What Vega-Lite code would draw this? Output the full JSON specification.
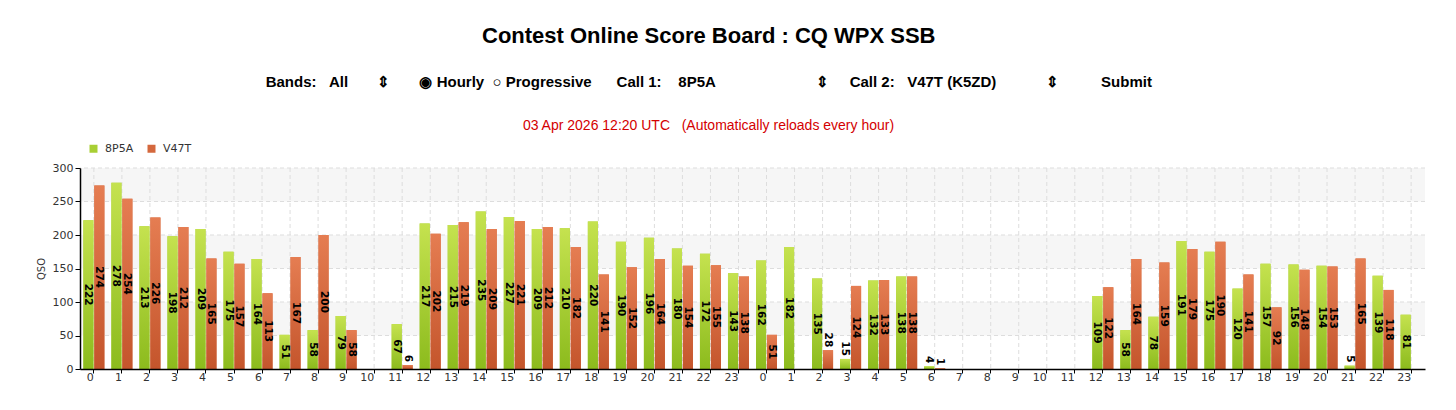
{
  "$schema": "https://vega.github.io/schema/vega-lite/v6.json",
  "background": "white",
  "padding": {"left": 36, "top": 25, "right": 15, "bottom": 5},
  "config": {"view": {"stroke": null}},
  "title": {
    "text": "Contest Online Score Board : CQ WPX SSB",
    "subtitle": "Bands:\u00a0\u00a0\u00a0All\u00a0\u00a0\u00a0\u00a0\u00a0\u00a0\u00a0⇕\u00a0\u00a0\u00a0\u00a0\u00a0\u00a0\u00a0◉ Hourly\u00a0\u00a0○ Progressive\u00a0\u00a0\u00a0\u00a0\u00a0\u00a0Call 1:\u00a0\u00a0\u00a0\u00a08P5A\u00a0\u00a0\u00a0\u00a0\u00a0\u00a0\u00a0\u00a0\u00a0\u00a0\u00a0\u00a0\u00a0\u00a0\u00a0\u00a0\u00a0\u00a0\u00a0\u00a0\u00a0\u00a0\u00a0\u00a0⇕\u00a0\u00a0\u00a0\u00a0\u00a0Call 2:\u00a0\u00a0\u00a0V47T (K5ZD)\u00a0\u00a0\u00a0\u00a0\u00a0\u00a0\u00a0\u00a0\u00a0\u00a0\u00a0\u00a0⇕\u00a0\u00a0\u00a0\u00a0\u00a0\u00a0\u00a0\u00a0\u00a0\u00a0Submit\u00a0\u00a0\u00a0",
    "anchor": "middle",
    "dx": -22,
    "font": "Liberation Sans",
    "fontSize": 22,
    "fontWeight": "bold",
    "color": "#000000",
    "subtitleFont": "Liberation Sans",
    "subtitleFontSize": 15,
    "subtitleFontWeight": "bold",
    "subtitleColor": "#000000",
    "subtitlePadding": 27,
    "offset": 28
  },
  "datasets": {
    "bands": [
      {"lo": 50, "hi": 100},
      {"lo": 150, "hi": 200},
      {"lo": 250, "hi": 300}
    ],
    "qso": [
      {"slot": 0, "call": "8P5A", "qso": 222}, {"slot": 0, "call": "V47T", "qso": 274},
      {"slot": 1, "call": "8P5A", "qso": 278}, {"slot": 1, "call": "V47T", "qso": 254},
      {"slot": 2, "call": "8P5A", "qso": 213}, {"slot": 2, "call": "V47T", "qso": 226},
      {"slot": 3, "call": "8P5A", "qso": 198}, {"slot": 3, "call": "V47T", "qso": 212},
      {"slot": 4, "call": "8P5A", "qso": 209}, {"slot": 4, "call": "V47T", "qso": 165},
      {"slot": 5, "call": "8P5A", "qso": 175}, {"slot": 5, "call": "V47T", "qso": 157},
      {"slot": 6, "call": "8P5A", "qso": 164}, {"slot": 6, "call": "V47T", "qso": 113},
      {"slot": 7, "call": "8P5A", "qso": 51}, {"slot": 7, "call": "V47T", "qso": 167},
      {"slot": 8, "call": "8P5A", "qso": 58}, {"slot": 8, "call": "V47T", "qso": 200},
      {"slot": 9, "call": "8P5A", "qso": 79}, {"slot": 9, "call": "V47T", "qso": 58},
      {"slot": 10, "call": "8P5A", "qso": 0}, {"slot": 10, "call": "V47T", "qso": 0},
      {"slot": 11, "call": "8P5A", "qso": 67}, {"slot": 11, "call": "V47T", "qso": 6},
      {"slot": 12, "call": "8P5A", "qso": 217}, {"slot": 12, "call": "V47T", "qso": 202},
      {"slot": 13, "call": "8P5A", "qso": 215}, {"slot": 13, "call": "V47T", "qso": 219},
      {"slot": 14, "call": "8P5A", "qso": 235}, {"slot": 14, "call": "V47T", "qso": 209},
      {"slot": 15, "call": "8P5A", "qso": 227}, {"slot": 15, "call": "V47T", "qso": 221},
      {"slot": 16, "call": "8P5A", "qso": 209}, {"slot": 16, "call": "V47T", "qso": 212},
      {"slot": 17, "call": "8P5A", "qso": 210}, {"slot": 17, "call": "V47T", "qso": 182},
      {"slot": 18, "call": "8P5A", "qso": 220}, {"slot": 18, "call": "V47T", "qso": 141},
      {"slot": 19, "call": "8P5A", "qso": 190}, {"slot": 19, "call": "V47T", "qso": 152},
      {"slot": 20, "call": "8P5A", "qso": 196}, {"slot": 20, "call": "V47T", "qso": 164},
      {"slot": 21, "call": "8P5A", "qso": 180}, {"slot": 21, "call": "V47T", "qso": 154},
      {"slot": 22, "call": "8P5A", "qso": 172}, {"slot": 22, "call": "V47T", "qso": 155},
      {"slot": 23, "call": "8P5A", "qso": 143}, {"slot": 23, "call": "V47T", "qso": 138},
      {"slot": 24, "call": "8P5A", "qso": 162}, {"slot": 24, "call": "V47T", "qso": 51},
      {"slot": 25, "call": "8P5A", "qso": 182}, {"slot": 25, "call": "V47T", "qso": 0},
      {"slot": 26, "call": "8P5A", "qso": 135}, {"slot": 26, "call": "V47T", "qso": 28},
      {"slot": 27, "call": "8P5A", "qso": 15}, {"slot": 27, "call": "V47T", "qso": 124},
      {"slot": 28, "call": "8P5A", "qso": 132}, {"slot": 28, "call": "V47T", "qso": 133},
      {"slot": 29, "call": "8P5A", "qso": 138}, {"slot": 29, "call": "V47T", "qso": 138},
      {"slot": 30, "call": "8P5A", "qso": 4}, {"slot": 30, "call": "V47T", "qso": 1},
      {"slot": 31, "call": "8P5A", "qso": 0}, {"slot": 31, "call": "V47T", "qso": 0},
      {"slot": 32, "call": "8P5A", "qso": 0}, {"slot": 32, "call": "V47T", "qso": 0},
      {"slot": 33, "call": "8P5A", "qso": 0}, {"slot": 33, "call": "V47T", "qso": 0},
      {"slot": 34, "call": "8P5A", "qso": 0}, {"slot": 34, "call": "V47T", "qso": 0},
      {"slot": 35, "call": "8P5A", "qso": 0}, {"slot": 35, "call": "V47T", "qso": 0},
      {"slot": 36, "call": "8P5A", "qso": 109}, {"slot": 36, "call": "V47T", "qso": 122},
      {"slot": 37, "call": "8P5A", "qso": 58}, {"slot": 37, "call": "V47T", "qso": 164},
      {"slot": 38, "call": "8P5A", "qso": 78}, {"slot": 38, "call": "V47T", "qso": 159},
      {"slot": 39, "call": "8P5A", "qso": 191}, {"slot": 39, "call": "V47T", "qso": 179},
      {"slot": 40, "call": "8P5A", "qso": 175}, {"slot": 40, "call": "V47T", "qso": 190},
      {"slot": 41, "call": "8P5A", "qso": 120}, {"slot": 41, "call": "V47T", "qso": 141},
      {"slot": 42, "call": "8P5A", "qso": 157}, {"slot": 42, "call": "V47T", "qso": 92},
      {"slot": 43, "call": "8P5A", "qso": 156}, {"slot": 43, "call": "V47T", "qso": 148},
      {"slot": 44, "call": "8P5A", "qso": 154}, {"slot": 44, "call": "V47T", "qso": 153},
      {"slot": 45, "call": "8P5A", "qso": 5}, {"slot": 45, "call": "V47T", "qso": 165},
      {"slot": 46, "call": "8P5A", "qso": 139}, {"slot": 46, "call": "V47T", "qso": 118},
      {"slot": 47, "call": "8P5A", "qso": 81}, {"slot": 47, "call": "V47T", "qso": 0}
    ]
  },
  "resolve": {"legend": {"color": "independent"}},
  "vconcat": [
    {
      "title": {
        "text": "03 Apr 2026 12:20 UTC\u00a0\u00a0\u00a0(Automatically reloads every hour)",
        "anchor": "middle",
        "dx": -44,
        "font": "Liberation Sans",
        "fontSize": 14,
        "fontWeight": "normal",
        "color": "#d40000",
        "offset": 2
      },
      "width": 1345,
      "height": 201,
      "layer": [
        {
          "data": {"name": "bands"},
          "mark": {"type": "rect", "fill": "#f6f6f6"},
          "encoding": {
            "y": {
              "field": "lo",
              "type": "quantitative",
              "scale": {"domain": [0, 300], "nice": false},
              "axis": {
                "title": "QSO",
                "zindex": 1,
                "grid": false,
                "tickCount": 6,
                "labelOverlap": false,
                "titleFont": "DejaVu Sans",
                "titleFontSize": 10,
                "titleFontWeight": "normal",
                "titleColor": "#333333",
                "titlePadding": 6,
                "labelFont": "DejaVu Sans",
                "labelFontSize": 11,
                "labelColor": "#333333",
                "domainColor": "#000000",
                "domainWidth": 1.5,
                "tickColor": "#000000",
                "tickSize": 5
              }
            },
            "y2": {"field": "hi"}
          }
        },
        {
          "data": {"name": "bands"},
          "mark": {"type": "rule", "color": "#dddddd", "strokeDash": [4, 3]},
          "encoding": {"y": {"field": "lo", "type": "quantitative"}}
        },
        {
          "data": {"name": "bands"},
          "mark": {"type": "rule", "color": "#dddddd", "strokeDash": [4, 3]},
          "encoding": {"y": {"field": "hi", "type": "quantitative"}}
        },
        {
          "data": {"name": "qso"},
          "layer": [
            {
              "transform": [{"filter": "datum.call === '8P5A'"}],
              "mark": {"type": "rule", "color": "#dddddd", "strokeDash": [4, 3]},
              "encoding": {"x": {"field": "slot", "type": "ordinal"}}
            },
            {
              "mark": {"type": "bar"},
              "encoding": {
                "x": {
                  "field": "slot",
                  "type": "ordinal",
                  "scale": {"paddingInner": 0.25, "paddingOuter": 0.12},
                  "axis": {
                    "title": null,
                    "zindex": 1,
                    "grid": false,
                    "labelExpr": "datum.value % 24",
                    "labelAngle": 0,
                    "labelFont": "DejaVu Sans",
                    "labelFontSize": 11,
                    "labelColor": "#333333",
                    "labelPadding": 4,
                    "domainColor": "#000000",
                    "domainWidth": 1.5,
                    "tickColor": "#000000",
                    "tickSize": 4
                  }
                },
                "xOffset": {"field": "call", "type": "nominal", "scale": {"paddingInner": 0.08}},
                "y": {
                  "field": "qso",
                  "type": "quantitative",
                  "scale": {"domain": [0, 300], "nice": false},
                  "axis": {
                    "title": "QSO",
                    "zindex": 1,
                    "grid": false,
                    "tickCount": 6,
                    "labelOverlap": false,
                    "titleFont": "DejaVu Sans",
                    "titleFontSize": 10,
                    "titleFontWeight": "normal",
                    "titleColor": "#333333",
                    "titlePadding": 6,
                    "labelFont": "DejaVu Sans",
                    "labelFontSize": 11,
                    "labelColor": "#333333",
                    "domainColor": "#000000",
                    "domainWidth": 1.5,
                    "tickColor": "#000000",
                    "tickSize": 5
                  }
                },
                "color": {
                  "field": "call",
                  "type": "nominal",
                  "scale": {"domain": ["8P5A", "V47T"], "range": ["#a8cf34", "#d4683d"]},
                  "legend": {
                    "title": null,
                    "orient": "top",
                    "direction": "horizontal",
                    "symbolType": "square",
                    "symbolSize": 64,
                    "labelFont": "DejaVu Sans",
                    "labelFontSize": 11,
                    "labelColor": "#333333",
                    "labelOffset": 6,
                    "columnPadding": 12,
                    "offset": 6,
                    "padding": 8
                  }
                }
              }
            },
            {
              "transform": [{"filter": "datum.call === '8P5A'"}],
              "mark": {
                "type": "bar",
                "fill": {
                  "gradient": "linear", "x1": 0, "y1": 0, "x2": 0, "y2": 1,
                  "stops": [{"offset": 0, "color": "#c5e24f"}, {"offset": 1, "color": "#8cbb1d"}]
                }
              },
              "encoding": {
                "x": {"field": "slot", "type": "ordinal"},
                "xOffset": {"field": "call", "type": "nominal"},
                "y": {"field": "qso", "type": "quantitative"}
              }
            },
            {
              "transform": [{"filter": "datum.call === 'V47T'"}],
              "mark": {
                "type": "bar",
                "fill": {
                  "gradient": "linear", "x1": 0, "y1": 0, "x2": 0, "y2": 1,
                  "stops": [{"offset": 0, "color": "#e57d52"}, {"offset": 1, "color": "#c4552c"}]
                }
              },
              "encoding": {
                "x": {"field": "slot", "type": "ordinal"},
                "xOffset": {"field": "call", "type": "nominal"},
                "y": {"field": "qso", "type": "quantitative"}
              }
            },
            {
              "transform": [
                {"filter": "datum.qso >= 35"},
                {"calculate": "datum.qso / 2", "as": "mid"}
              ],
              "mark": {"type": "text", "angle": 90, "align": "center", "baseline": "middle", "font": "DejaVu Sans", "fontSize": 10.5, "fontWeight": "bold", "color": "#000000"},
              "encoding": {
                "x": {"field": "slot", "type": "ordinal"},
                "xOffset": {"field": "call", "type": "nominal"},
                "y": {"field": "mid", "type": "quantitative"},
                "text": {"field": "qso", "type": "quantitative"}
              }
            },
            {
              "transform": [{"filter": "datum.qso > 0 && datum.qso < 35"}],
              "mark": {"type": "text", "angle": 90, "align": "right", "baseline": "middle", "dx": -3, "font": "DejaVu Sans", "fontSize": 10.5, "fontWeight": "bold", "color": "#000000"},
              "encoding": {
                "x": {"field": "slot", "type": "ordinal"},
                "xOffset": {"field": "call", "type": "nominal"},
                "y": {"field": "qso", "type": "quantitative"},
                "text": {"field": "qso", "type": "quantitative"}
              }
            }
          ]
        }
      ]
    }
  ]
}
